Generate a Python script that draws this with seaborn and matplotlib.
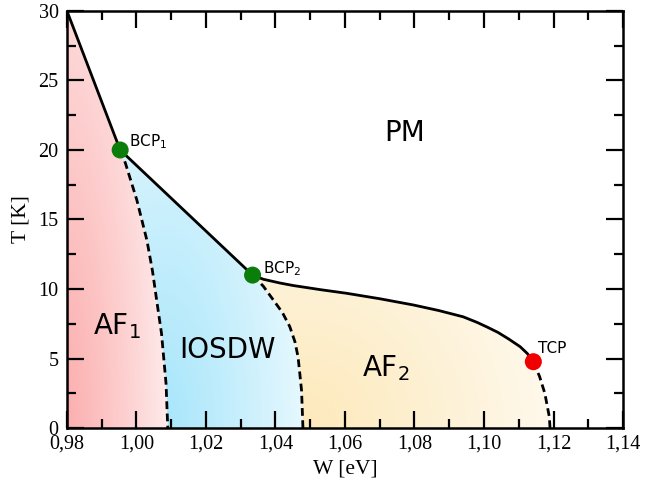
import numpy as np
import pandas as pd
import seaborn as sns
import matplotlib
matplotlib.use("Agg")
import matplotlib.pyplot as plt
from matplotlib.patches import Polygon
from matplotlib.ticker import MultipleLocator, FuncFormatter

# phase boundaries (W in eV, T in K)
solid1_w = [0.98, 0.9953, 1.0334]
solid1_t = [30.0, 20.0, 11.0]

solid2_w = [1.0334, 1.0365, 1.0413, 1.0451, 1.0530, 1.0605, 1.0700, 1.0797, 1.0870, 1.0940,
            1.0980, 1.1010, 1.1040, 1.1070, 1.1104, 1.1125, 1.1142]
solid2_t = [11.0, 10.7, 10.43, 10.25, 9.95, 9.69, 9.30, 8.85, 8.45, 8.0,
            7.6, 7.25, 6.88, 6.42, 5.85, 5.35, 4.77]

dash1_w = [0.9953, 0.9968, 1.0001, 1.0030, 1.0046, 1.0058, 1.0072, 1.0085, 1.0090]
dash1_t = [20.0, 19.06, 16.4, 13.5, 11.3, 9.2, 6.8, 3.2, 0.0]

dash2_w = [1.0334, 1.0365, 1.0394, 1.0420, 1.0441, 1.0456, 1.0465, 1.0475, 1.0479]
dash2_t = [11.0, 10.2, 9.2, 8.3, 7.3, 6.2, 5.1, 2.7, 0.0]

dash3_w = [1.1142, 1.1160, 1.1175, 1.1188, 1.1190]
dash3_t = [4.77, 3.7, 2.5, 0.8, 0.0]

point_names = ["BCP$_\\mathregular{1}$", "BCP$_\\mathregular{2}$", "TCP"]
point_w = [0.9953, 1.0334, 1.1142]
point_t = [20.0, 11.0, 4.77]
point_colors = ["#0a7d0a", "#0a7d0a", "#f00000"]

phase_names = ["PM", "AF$_\\mathregular{1}$", "IOSDW", "AF$_\\mathregular{2}$"]
phase_w = [1.0773, 0.9945, 1.0263, 1.0718]
phase_t = [21.2, 7.3, 5.6, 4.3]

x_ticks = [0.98, 1.00, 1.02, 1.04, 1.06, 1.08, 1.10, 1.12, 1.14]
y_ticks = [0, 5, 10, 15, 20, 25, 30]

sns.set_theme(style="ticks")
plt.rcParams['font.family'] = ['Liberation Serif', 'DejaVu Serif']
plt.rcParams['mathtext.fontset'] = 'dejavusans'
plt.rcParams['text.color'] = 'black'
plt.rcParams['axes.labelcolor'] = 'black'

fig = plt.figure(figsize=(6.46, 4.9), dpi=100)
ax = fig.add_axes([0.1037, 0.1265, 0.8607, 0.8511])
ax.set_xlim(0.98, 1.14)
ax.set_ylim(0, 30)


def shaded(poly_pts, color, anchor, rx, ry):
    gx = np.linspace(0.98, 1.14, 400)
    gy = np.linspace(0, 30, 300)
    X, Y = np.meshgrid(gx, gy)
    d = np.sqrt(((X - anchor[0]) / rx) ** 2 + ((Y - anchor[1]) / ry) ** 2)
    wgt = np.clip(1 - d, 0, 1) ** 0.8
    col = np.array(matplotlib.colors.to_rgb(color))
    img = 1 - wgt[..., None] * (1 - col)
    im = ax.imshow(img, extent=(0.98, 1.14, 0, 30), origin="lower",
                   aspect="auto", interpolation="bilinear", zorder=0)
    patch = Polygon(poly_pts, closed=True, transform=ax.transData,
                    facecolor="none", edgecolor="none")
    ax.add_patch(patch)
    im.set_clip_path(patch)


af1_poly = ([(0.98, 0.0)] + list(zip(solid1_w[:2], solid1_t[:2]))
            + list(zip(dash1_w, dash1_t))[1:])
iosdw_poly = (list(zip(dash1_w, dash1_t)) + list(zip(dash2_w, dash2_t))[::-1])
af2_poly = (list(zip(dash2_w, dash2_t)) + list(zip(dash3_w, dash3_t))[::-1]
            + list(zip(solid2_w, solid2_t))[::-1])

shaded(af1_poly, "#fcacac", (0.978, 0.0), 0.037, 48)
shaded(iosdw_poly, "#a8e6fb", (1.008, 0.0), 0.05, 34)
shaded(af2_poly, "#fde9bb", (1.048, 0.0), 0.088, 22)

# boundaries
lw = 2.0
sns.lineplot(x=solid1_w, y=solid1_t, sort=False, color="black", lw=lw, ax=ax, zorder=3)
sns.lineplot(x=solid2_w, y=solid2_t, sort=False, color="black", lw=lw, ax=ax, zorder=3)
for w, t in [(dash1_w, dash1_t), (dash2_w, dash2_t), (dash3_w, dash3_t)]:
    sns.lineplot(x=w, y=t, sort=False, color="black", lw=lw, ax=ax, zorder=3,
                 linestyle=(0, (2.8, 1.6)))

pts = pd.DataFrame({"w": point_w, "t": point_t, "name": point_names})
sns.scatterplot(data=pts, x="w", y="t", hue="name", palette=point_colors,
                s=150, edgecolor="none", legend=False, ax=ax, zorder=5)

offs = [(0.0026, 0.6), (0.003, 0.5), (0.0012, 0.95)]
for name, w, t, (dx, dy) in zip(point_names, point_w, point_t, offs):
    ax.text(w + dx, t + dy, name, family="DejaVu Sans", fontsize=11,
            ha="left", va="center", color="black", zorder=6)

for name, w, t in zip(phase_names, phase_w, phase_t):
    ax.text(w, t, name, family="DejaVu Sans", fontsize=20,
            ha="center", va="center", color="black", zorder=6)

ax.set_xticks(x_ticks)
ax.set_yticks(y_ticks)
ax.xaxis.set_minor_locator(MultipleLocator(0.01))
ax.yaxis.set_minor_locator(MultipleLocator(2.5))
ax.xaxis.set_major_formatter(FuncFormatter(lambda v, p: f"{v:.2f}".replace(".", ",")))
ax.yaxis.set_major_formatter(FuncFormatter(lambda v, p: f"{v:.0f}"))
ax.tick_params(which="both", direction="in", top=True, right=True,
               width=1.6, colors="black", labelsize=14.5)
ax.tick_params(which="major", length=12.5)
ax.tick_params(which="minor", length=6.5)
ax.tick_params(axis="x", pad=5)
ax.tick_params(axis="y", pad=6)
for sp in ax.spines.values():
    sp.set_linewidth(1.8)
    sp.set_color("black")
    sp.set_zorder(7)

ax.set_xlabel("W [eV]", fontsize=15.5, labelpad=4, color="black")
ax.set_ylabel("T [K]", fontsize=15.5, labelpad=6, color="black")

fig.savefig("out.png", dpi=100)
